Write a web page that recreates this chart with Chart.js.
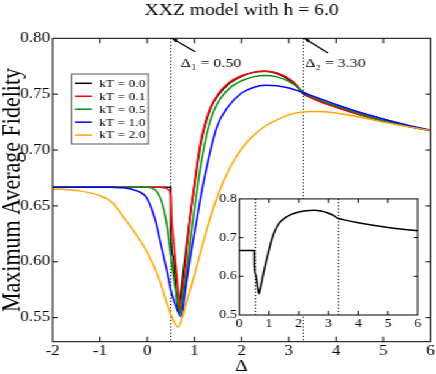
<!DOCTYPE html>
<html>
<head>
<meta charset="utf-8">
<script src="https://cdn.jsdelivr.net/npm/chart.js@4.4.0/dist/chart.umd.min.js"></script>
<style>
html,body{margin:0;padding:0;background:#fff;overflow:hidden}
#wrap{position:relative;width:356px;height:374px;transform:scaleX(1.2247);transform-origin:0 0}
#main{position:absolute;left:0;top:0}
#inset{position:absolute;left:167px;top:190px}
</style>
</head>
<body>
<div id="wrap">
<canvas id="main" width="356" height="374"></canvas>
<canvas id="inset" width="180" height="146"></canvas>
</div>
<script>
// data
const seriesLabels = ['kT = 0.0', 'kT = 0.1', 'kT = 0.5', 'kT = 1.0', 'kT = 2.0'];
const seriesColors = ['#000000', '#ff0000', '#0a8c0a', '#0000ff', '#ffa500'];

const delta0 = [-2, -1, 0, 0.5, 0.501, 0.55, 0.6, 0.66, 0.7, 0.8, 0.9, 1.0, 1.1, 1.2, 1.35, 1.5, 1.75, 2.0, 2.25, 2.5, 2.75, 3.0, 3.15, 3.3, 3.5, 4.0, 4.5, 5.0, 5.5, 6.0];
const fid0 = [0.6667, 0.6667, 0.6667, 0.6667, 0.628, 0.605, 0.582, 0.555, 0.567, 0.603, 0.638, 0.668, 0.697, 0.718, 0.738, 0.749, 0.760, 0.766, 0.7695, 0.7705, 0.7685, 0.7630, 0.7580, 0.7505, 0.7465, 0.7385, 0.7318, 0.7262, 0.7214, 0.7175];

const delta1 = [-2, -1, 0, 0.3, 0.4, 0.45, 0.5, 0.52, 0.56, 0.6, 0.65, 0.7, 0.75, 0.8, 0.9, 1.0, 1.1, 1.2, 1.26, 1.35, 1.5, 1.72, 2.0, 2.25, 2.5, 2.75, 3.0, 3.15, 3.3, 3.5, 4.0, 4.5, 5.0, 5.5, 6.0];
const fid1 = [0.6667, 0.6667, 0.6667, 0.6666, 0.6660, 0.6645, 0.6600, 0.6375, 0.6190, 0.6000, 0.5770, 0.5540, 0.5740, 0.5940, 0.6360, 0.6700, 0.7000, 0.7200, 0.7290, 0.7390, 0.7500, 0.7600, 0.7665, 0.7695, 0.7705, 0.7690, 0.7640, 0.7590, 0.7512, 0.7462, 0.7382, 0.7316, 0.7260, 0.7213, 0.7175];

const delta2 = [-2, -1, 0, 0.1, 0.2, 0.3, 0.4, 0.5, 0.6, 0.7, 0.75, 0.84, 0.9, 0.97, 1.05, 1.15, 1.25, 1.33, 1.42, 1.55, 1.79, 2.0, 2.25, 2.5, 2.75, 3.0, 3.15, 3.3, 3.5, 4.0, 4.5, 5.0, 5.5, 6.0];
const fid2 = [0.6667, 0.6667, 0.6667, 0.6660, 0.6630, 0.6550, 0.6375, 0.6060, 0.5750, 0.5530, 0.5670, 0.5930, 0.6140, 0.6375, 0.6620, 0.6900, 0.7120, 0.7250, 0.7360, 0.7460, 0.7570, 0.7620, 0.7655, 0.7668, 0.7655, 0.7615, 0.7575, 0.7520, 0.7475, 0.7395, 0.7325, 0.7265, 0.7217, 0.7175];

const delta3 = [-2, -1, -0.75, -0.5, -0.25, 0, 0.17, 0.3, 0.415, 0.5, 0.6, 0.72, 0.8, 0.873, 0.96, 1.05, 1.16, 1.3, 1.47, 1.7, 2.0, 2.25, 2.5, 2.75, 3.0, 3.3, 3.5, 4.0, 4.5, 5.0, 5.5, 6.0];
const fid3 = [0.6667, 0.6667, 0.6666, 0.6662, 0.6640, 0.6565, 0.6375, 0.6140, 0.5927, 0.5750, 0.5610, 0.5510, 0.5720, 0.5930, 0.6160, 0.6375, 0.6640, 0.6920, 0.7200, 0.7380, 0.7510, 0.7560, 0.7580, 0.7575, 0.7555, 0.7515, 0.7485, 0.7408, 0.7338, 0.7278, 0.7224, 0.7177];

const delta4 = [-2, -1.5, -1, -0.75, -0.5, -0.25, 0, 0.25, 0.5, 0.66, 0.75, 0.85, 1.0, 1.25, 1.5, 1.75, 2.0, 2.25, 2.5, 2.75, 3.0, 3.25, 3.5, 3.75, 4.0, 4.5, 5.0, 5.5, 6.0];
const fid4 = [0.6652, 0.6638, 0.6592, 0.6535, 0.6400, 0.6255, 0.6085, 0.5850, 0.5530, 0.5415, 0.5510, 0.5660, 0.5880, 0.6270, 0.6600, 0.6840, 0.7010, 0.7130, 0.7215, 0.7270, 0.7315, 0.7338, 0.7345, 0.7342, 0.7332, 0.7295, 0.7250, 0.7212, 0.7175];

const xTicks = [-2, -1, 0, 1, 2, 3, 4, 5, 6];
const yTicks = [0.55, 0.60, 0.65, 0.70, 0.75, 0.80];
const insetXTicks = [0, 1, 2, 3, 4, 5, 6];
const insetYTicks = [0.5, 0.6, 0.7, 0.8];
const deltaMarks = [0.5, 3.3];
const markLabels = ['\u0394\u2081 = 0.50', '\u0394\u2082 = 3.30'];
const arrowTails = [[1.015, 0.788], [3.83, 0.7868]];
const labelPos = [[0.712, 0.7746], [3.345, 0.7746]];

const S = 436 / 356; // page is stretched sideways like the original
const serif = "'Liberation Serif', 'Times New Roman', serif";

function pts(xs, ys) { return xs.map((x, i) => ({x: x, y: ys[i]})); }
const allX = [delta0, delta1, delta2, delta3, delta4];
const allY = [fid0, fid1, fid2, fid3, fid4];

function frameAndTicks(chart, len, xs, ys) {
  const {ctx, chartArea: a, scales} = chart;
  ctx.save();
  ctx.strokeStyle = '#000';
  ctx.lineWidth = 1;
  ctx.strokeRect(a.left, a.top, a.right - a.left, a.bottom - a.top);
  ctx.beginPath();
  xs.forEach(v => {
    const px = scales.x.getPixelForValue(v);
    if (px <= a.left + 1 || px >= a.right - 1) return;
    ctx.moveTo(px, a.bottom); ctx.lineTo(px, a.bottom - len);
    ctx.moveTo(px, a.top); ctx.lineTo(px, a.top + len);
  });
  ys.forEach(v => {
    const py = scales.y.getPixelForValue(v);
    if (py <= a.top + 1 || py >= a.bottom - 1) return;
    ctx.moveTo(a.left, py); ctx.lineTo(a.left + len / S, py);
    ctx.moveTo(a.right, py); ctx.lineTo(a.right - len / S, py);
  });
  ctx.stroke();
  ctx.restore();
}

function dotted(chart) {
  const {ctx, chartArea: a, scales} = chart;
  ctx.save();
  ctx.strokeStyle = '#000';
  ctx.lineWidth = 1;
  ctx.setLineDash([1.2, 2]);
  ctx.beginPath();
  deltaMarks.forEach(v => {
    const px = Math.round(scales.x.getPixelForValue(v)) + 0.5;
    ctx.moveTo(px, a.top); ctx.lineTo(px, a.bottom);
  });
  ctx.stroke();
  ctx.restore();
}

const mainPlugin = {
  id: 'mainDeco',
  beforeDatasetsDraw(chart) { dotted(chart); },
  afterDatasetsDraw(chart) {
    const {ctx, scales} = chart;
    frameAndTicks(chart, 5, xTicks, yTicks);
    // arrows and labels
    ctx.save();
    ctx.strokeStyle = '#000';
    ctx.fillStyle = '#000';
    ctx.lineWidth = 1.2;
    deltaMarks.forEach((m, i) => {
      const hx = scales.x.getPixelForValue(m) + 1, hy = scales.y.getPixelForValue(0.80);
      const tx = scales.x.getPixelForValue(arrowTails[i][0]), ty = scales.y.getPixelForValue(arrowTails[i][1]);
      ctx.beginPath(); ctx.moveTo(tx, ty); ctx.lineTo(hx, hy); ctx.stroke();
      const ang = Math.atan2(hy - ty, hx - tx);
      ctx.beginPath();
      ctx.moveTo(hx, hy);
      ctx.lineTo(hx - 5 * Math.cos(ang - 0.35), hy - 5 * Math.sin(ang - 0.35));
      ctx.lineTo(hx - 5 * Math.cos(ang + 0.35), hy - 5 * Math.sin(ang + 0.35));
      ctx.closePath(); ctx.fill();
      ctx.font = '13px ' + serif;
      ctx.textBaseline = 'alphabetic';
      ctx.textAlign = 'left';
      ctx.fillText(markLabels[i], scales.x.getPixelForValue(labelPos[i][0]), scales.y.getPixelForValue(labelPos[i][1]));
    });
    ctx.restore();
  },
  afterDraw(chart) {
    // legend box
    const ctx = chart.ctx;
    const bx = 58.5, by = 74, bw = 62.6, bh = 70;
    ctx.save();
    ctx.fillStyle = '#fff';
    ctx.fillRect(bx, by, bw, bh);
    ctx.strokeStyle = '#555';
    ctx.lineWidth = 1;
    ctx.strokeRect(bx, by, bw, bh);
    ctx.font = '11px ' + serif;
    ctx.textBaseline = 'middle';
    ctx.textAlign = 'left';
    chart.data.datasets.forEach((ds, i) => {
      const yy = 83.3 + i * 12.95;
      ctx.strokeStyle = ds.borderColor;
      ctx.lineWidth = 1.5;
      ctx.beginPath(); ctx.moveTo(61.2, yy); ctx.lineTo(75.1, yy); ctx.stroke();
      ctx.fillStyle = '#000';
      ctx.fillText(ds.label, 81.1, yy + 0.5);
    });
    ctx.restore();
  }
};

new Chart(document.getElementById('main'), {
  type: 'scatter',
  data: {
    datasets: seriesLabels.map((lab, i) => ({
      label: lab,
      data: pts(allX[i], allY[i]),
      showLine: true,
      borderColor: seriesColors[i],
      backgroundColor: seriesColors[i],
      borderWidth: 1.5,
      pointRadius: 0,
      cubicInterpolationMode: 'monotone',
      order: 5 - i
    }))
  },
  options: {
    responsive: false,
    animation: false,
    devicePixelRatio: 1,
    layout: {padding: {left: 0, right: 4.35, top: 0, bottom: 0}},
    plugins: {
      legend: {display: false},
      tooltip: {enabled: false},
      title: {
        display: true, fullSize: false,
        text: 'XXZ model with h = 6.0',
        color: '#000',
        font: {family: serif, size: 16, weight: 'normal', lineHeight: 1.2},
        padding: {top: 1.5, bottom: 17.6}
      }
    },
    scales: {
      x: {
        type: 'linear', min: -2, max: 6,
        grid: {display: false, drawTicks: false, tickLength: 0}, border: {display: false},
        afterBuildTicks: s => { s.ticks = xTicks.map(v => ({value: v})); },
        afterFit: s => { s.height = 32.3; },
        ticks: {color: '#000', font: {family: serif, size: 14}, padding: 1, maxRotation: 0, autoSkip: false,
          callback: v => String(v)},
        title: {display: true, text: '\u0394', color: '#000', font: {family: serif, size: 16, lineHeight: 1}, padding: {top: 0, bottom: -1}}
      },
      y: {
        type: 'linear', min: 0.5285, max: 0.80,
        grid: {display: false, drawTicks: false, tickLength: 0}, border: {display: false},
        afterBuildTicks: s => { s.ticks = yTicks.map(v => ({value: v})); },
        afterFit: s => { s.width = 43.03; },
        ticks: {color: '#000', font: {family: serif, size: 14}, padding: 2, autoSkip: false,
          callback: v => v.toFixed(2)},
        title: {display: true, text: 'Maximum Average Fidelity', color: '#000', font: {family: serif, size: 22, lineHeight: 1}, padding: {top: -1, bottom: 0}}
      }
    }
  },
  plugins: [mainPlugin]
});

// inset: kT = 0.0 only, for delta >= 0
const insetX = delta0.filter(v => v >= 0);
const insetY = fid0.filter((v, i) => delta0[i] >= 0);

const insetPlugin = {
  id: 'insetDeco',
  beforeDraw(chart) {
    const {ctx, chartArea: a} = chart;
    ctx.save();
    ctx.fillStyle = '#fff';
    ctx.fillRect(a.left, a.top, a.right - a.left, a.bottom - a.top);
    ctx.restore();
  },
  beforeDatasetsDraw(chart) { dotted(chart); },
  afterDatasetsDraw(chart) { frameAndTicks(chart, 4, insetXTicks, insetYTicks); }
};

new Chart(document.getElementById('inset'), {
  type: 'scatter',
  data: {
    datasets: [{
      label: seriesLabels[0],
      data: pts(insetX, insetY),
      showLine: true,
      borderColor: '#000',
      borderWidth: 1.5,
      pointRadius: 0,
      cubicInterpolationMode: 'monotone'
    }]
  },
  options: {
    responsive: false,
    animation: false,
    devicePixelRatio: 1,
    layout: {padding: {left: 0, right: 5.95, top: 6.7, bottom: 0}},
    plugins: {legend: {display: false}, tooltip: {enabled: false}},
    scales: {
      x: {
        type: 'linear', min: 0, max: 6,
        grid: {display: false, drawTicks: false, tickLength: 0}, border: {display: false},
        afterBuildTicks: s => { s.ticks = insetXTicks.map(v => ({value: v})); },
        afterFit: s => { s.height = 21; },
        ticks: {color: '#000', font: {family: serif, size: 11.5}, padding: 2, maxRotation: 0, autoSkip: false,
          callback: v => String(v)}
      },
      y: {
        type: 'linear', min: 0.5, max: 0.8,
        grid: {display: false, drawTicks: false, tickLength: 0}, border: {display: false},
        afterBuildTicks: s => { s.ticks = insetYTicks.map(v => ({value: v})); },
        afterFit: s => { s.width = 28.4; },
        ticks: {color: '#000', font: {family: serif, size: 11.5}, padding: 2, autoSkip: false,
          callback: v => v.toFixed(1)}
      }
    }
  },
  plugins: [insetPlugin]
});
</script>
</body>
</html>
